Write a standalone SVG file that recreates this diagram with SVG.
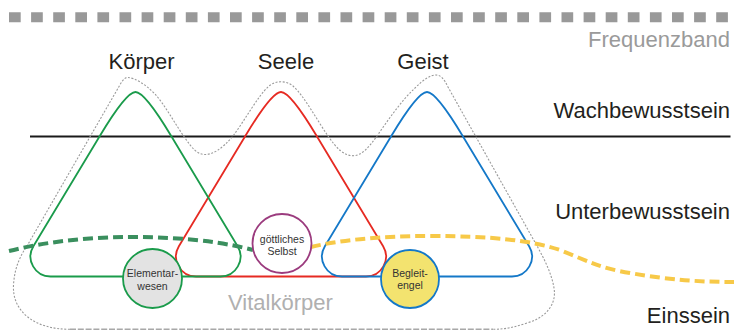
<svg xmlns="http://www.w3.org/2000/svg" xmlns:xlink="http://www.w3.org/1999/xlink" width="734" height="333" viewBox="0 0 734 333">
<style>
.lbl{font-family:"Liberation Sans",Arial,sans-serif;font-size:22px;fill:#231f20}
.gray{fill:#9a9a9a}
.small{font-family:"Liberation Sans",Arial,sans-serif;font-size:10.5px;fill:#333;text-anchor:middle}
.tri{fill:none;stroke-width:1.8}
.dash{fill:none;stroke-width:4;stroke-dasharray:10 5}
</style>
<defs>
<path id="tri" d="M -102.13,246.22 L -35.7,136 C -18.9,108 -7,92 0,92 C 7,92 18.9,108 35.7,136 L 102.13,246.22 A 20 20 0 0 1 84.99,276.5 L -84.99,276.5 A 20 20 0 0 1 -102.13,246.22 Z"/>
</defs>
<rect width="734" height="333" fill="#fff"/>
<line x1="9" y1="17.3" x2="734" y2="17.3" stroke="#999" stroke-width="10" stroke-dasharray="11.7 10.4"/>
<text class="lbl gray" x="730" y="47" text-anchor="end">Frequenzband</text>
<g id="levels">
<line x1="30" y1="136.5" x2="730.5" y2="136.5" stroke="#1a1a1a" stroke-width="2"/>
<text class="lbl" x="730" y="118" text-anchor="end">Wachbewusstsein</text>
<text class="lbl" x="730" y="218.5" text-anchor="end">Unterbewusstsein</text>
<text class="lbl" x="730" y="322.5" text-anchor="end">Einssein</text>
</g>
<g id="vitalkoerper">
<path d="M 70,329.3 C 35,329.3 12,312 13.5,285 C 14.5,268 20,256 27,246 L 117,90 C 121,83 124,77 128,77.5 C 135,78 145,84 155,94 C 165,105 175,124 185,138 C 192,148 197,154.5 205,154.5 C 213,154.5 222,149 233,136 C 245,120 258,96 268,87 C 275,80 287,80 294,87 C 304,96 317,120 328,136 C 337,149 344,155.7 353,155.7 C 362,155.7 369,147 377,136 C 388,120 402,100 415,88 C 423,80 430,75 436,75 C 441,75 444,79 448,87 L 532,237 C 541,253 551,270 554,288 C 557,305 545,318 527,323 C 515,327 505,329.3 493,329.3" fill="none" stroke="#9a9a9a" stroke-width="1.1" stroke-dasharray="2 1.6"/>
<line x1="70" y1="329.3" x2="493" y2="329.3" stroke="#a8a8a8" stroke-width="1.6" stroke-dasharray="6 1.8"/>
<text class="lbl" x="228" y="310" style="fill:#b0b0b0">Vitalkörper</text>
</g>
<g id="seele">
<use xlink:href="#tri" href="#tri" x="281" class="tri" stroke="#e62a22"/>
<text class="lbl" x="286" y="68.5" text-anchor="middle">Seele</text>
</g>
<g id="koerper">
<use xlink:href="#tri" href="#tri" x="135.5" class="tri" stroke="#1a9b4b"/>
<text class="lbl" x="141.5" y="68.5" text-anchor="middle">Körper</text>
</g>
<g id="geist">
<use xlink:href="#tri" href="#tri" x="427" class="tri" stroke="#1478c8"/>
<text class="lbl" x="423" y="68.5" text-anchor="middle">Geist</text>
</g>
<g id="connectors">
<path class="dash" d="M 9,251 C 60,238 120,235 170,238 C 205,240 230,244 253,250" stroke="#3a8f5e"/>
<path class="dash" d="M 311,247 C 340,240 380,236 430,236 C 490,236 530,240 560,250 C 590,262 600,268 630,273 C 670,280 700,282 734,282" stroke="#f7c948"/>
</g>
<g id="elementarwesen">
<circle cx="152.5" cy="278.5" r="29.5" fill="#e3e3e3" stroke="#1a9b4b" stroke-width="1.8"/>
<text class="small" x="152.5" y="276.5">Elementar-</text>
<text class="small" x="152.5" y="289.5">wesen</text>
</g>
<g id="goettliches-selbst">
<circle cx="282" cy="243.5" r="29.5" fill="#fff" stroke="#9b3b7e" stroke-width="1.8"/>
<text class="small" x="282" y="242.5">göttliches</text>
<text class="small" x="282" y="255">Selbst</text>
</g>
<g id="begleitengel">
<circle cx="410" cy="279" r="29" fill="#f3e36f" stroke="#1478c8" stroke-width="1.8"/>
<text class="small" x="410" y="276.5">Begleit-</text>
<text class="small" x="410" y="288.5">engel</text>
</g>
</svg>
